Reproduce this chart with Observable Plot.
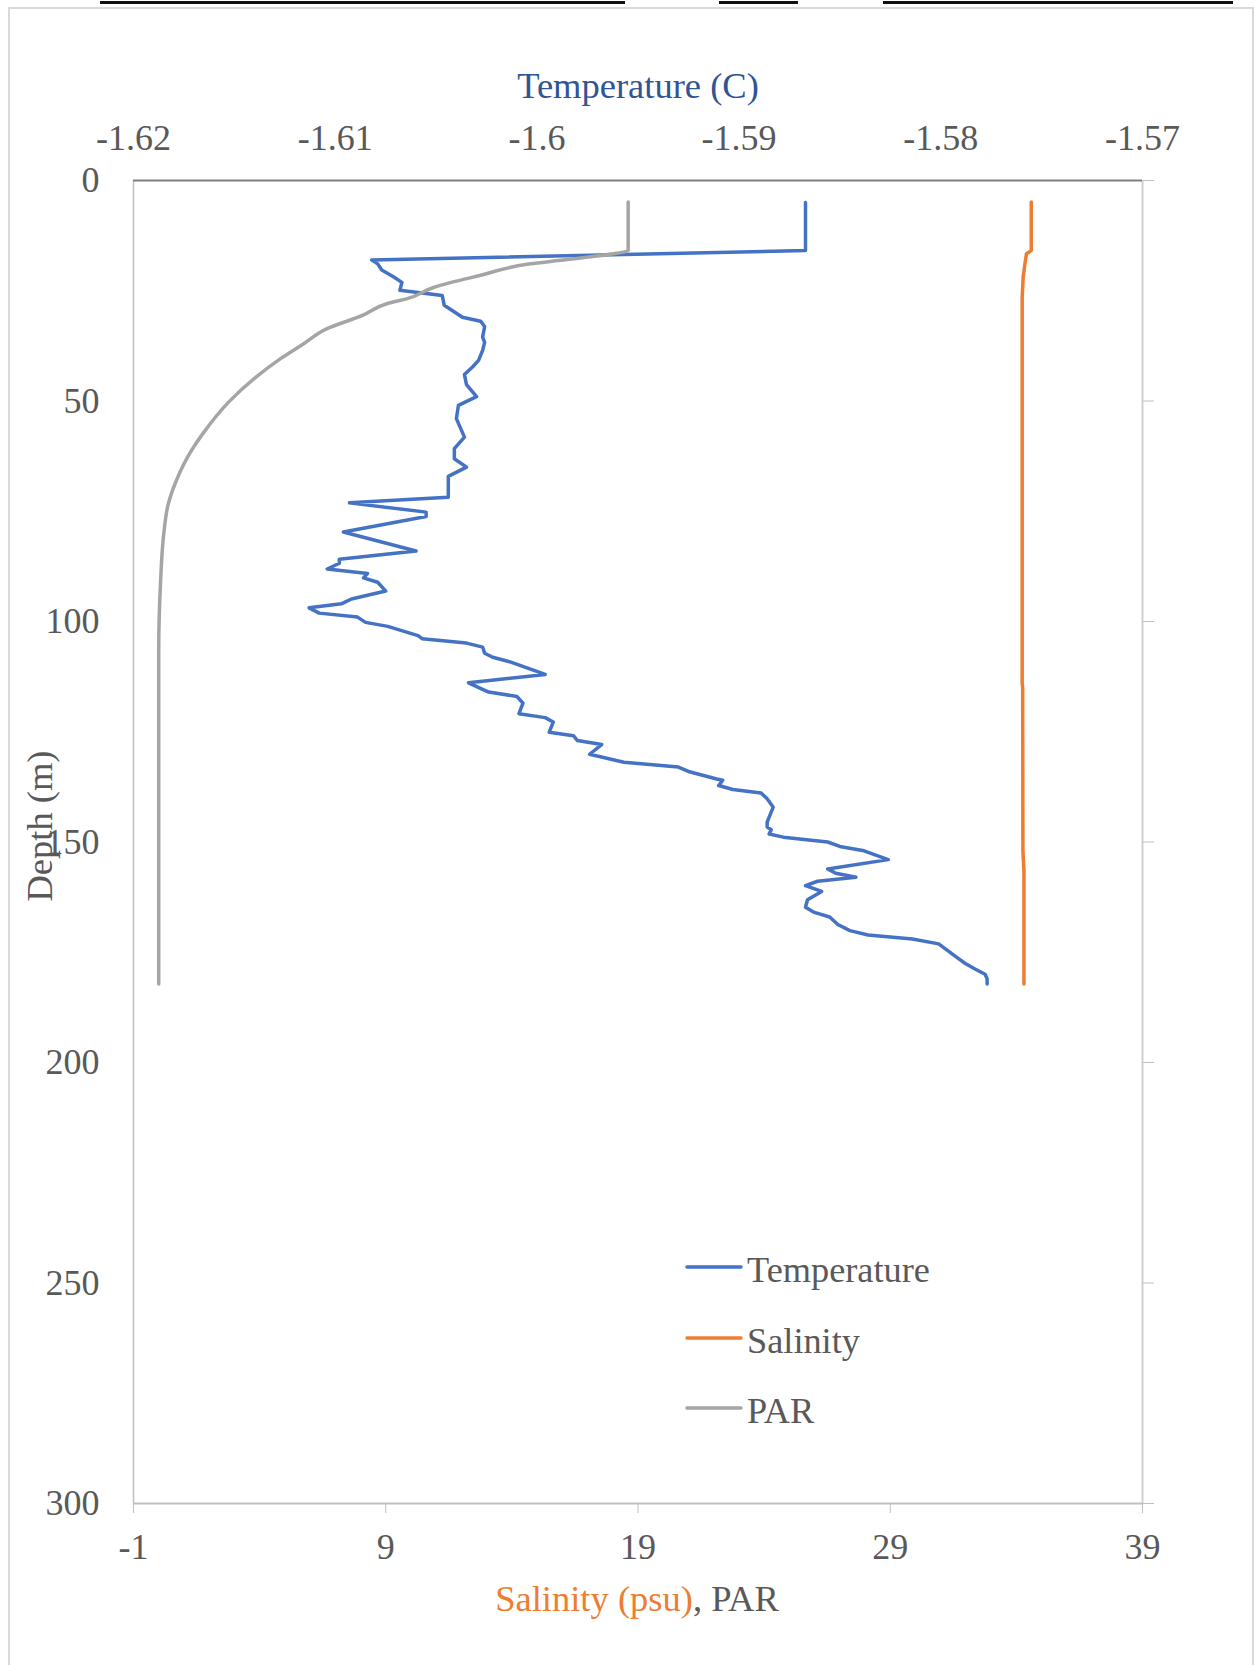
<!DOCTYPE html>
<html><head><meta charset="utf-8">
<script src="https://cdn.jsdelivr.net/npm/d3@7"></script>
<script src="https://cdn.jsdelivr.net/npm/@observablehq/plot@0.6"></script>
<style>
html,body{margin:0;padding:0;background:#fff;overflow:hidden}
#wrap{position:relative;width:1255px;height:1665px;overflow:hidden;background:#fff}
#frame{position:absolute;left:8px;top:7px;width:1246px;height:1700px;border:2px solid #d9d9d9;box-sizing:border-box}
#chart{position:absolute;left:0;top:0}
#overlay{position:absolute;left:0;top:0;pointer-events:none;font-family:"Liberation Serif","Times New Roman",serif}
</style></head><body>
<div id="wrap"><div id="frame"></div><div id="chart"></div><svg id="overlay" width="1255" height="1665"></svg></div>
<script>
// ---- data ----
const tempDepth = [5, 15.9, 18.0, 18.9, 20.3, 21.9, 23.1, 24.9, 26.1, 28.3, 31.0, 31.9, 33.1, 35.5, 36.7, 38.5, 40.8, 42.3, 44.0, 46.3, 49.0, 51.0, 54.0, 58.2, 60.8, 63.1, 65.0, 67.1, 71.8, 73.1, 75.2, 76.2, 79.7, 84.0, 85.9, 86.8, 88.1, 89.1, 90.1, 91.1, 93.1, 94.9, 96.0, 96.9, 98.1, 99.0, 100.2, 101.1, 103.2, 103.9, 104.9, 105.8, 107.2, 108.1, 109.2, 112.0, 113.9, 116.0, 117.0, 118.5, 120.9, 121.8, 122.8, 125.1, 125.9, 127.0, 127.9, 130.1, 131.9, 133.0, 134.0, 135.7, 136.0, 137.2, 138.1, 138.9, 140.2, 142.1, 145.5, 146.6, 147.2, 148.2, 148.9, 150.0, 151.0, 152.0, 154.0, 156.1, 157.1, 158.0, 158.9, 159.9, 161.2, 163.1, 164.8, 165.9, 167.0, 168.7, 170.1, 171.1, 172.0, 173.1, 174.8, 176.5, 177.5, 178.8, 180.0, 181.0, 182.2];
const tempValue = [-1.5867, -1.5867, -1.6082, -1.6079, -1.6077, -1.6071, -1.6067, -1.6068, -1.6047, -1.6046, -1.6037, -1.6028, -1.6026, -1.6027, -1.6026, -1.6027, -1.6029, -1.6032, -1.6036, -1.6035, -1.6030, -1.6039, -1.6040, -1.6036, -1.6041, -1.6041, -1.6035, -1.6044, -1.6044, -1.6093, -1.6055, -1.6055, -1.6096, -1.6060, -1.6098, -1.6098, -1.6104, -1.6084, -1.6086, -1.6079, -1.6075, -1.6092, -1.6097, -1.6113, -1.6108, -1.6089, -1.6085, -1.6074, -1.6059, -1.6057, -1.6035, -1.6027, -1.6026, -1.6022, -1.6013, -1.5996, -1.6034, -1.6024, -1.6010, -1.6007, -1.6009, -1.5996, -1.5992, -1.5994, -1.5982, -1.5980, -1.5968, -1.5974, -1.5957, -1.5930, -1.5925, -1.5911, -1.5908, -1.5910, -1.5903, -1.5889, -1.5886, -1.5883, -1.5886, -1.5886, -1.5884, -1.5885, -1.5878, -1.5856, -1.5850, -1.5838, -1.5826, -1.5856, -1.5852, -1.5842, -1.5861, -1.5867, -1.5859, -1.5866, -1.5867, -1.5863, -1.5855, -1.5851, -1.5845, -1.5836, -1.5814, -1.5801, -1.5796, -1.5791, -1.5788, -1.5783, -1.5778, -1.5777, -1.5777];
const salDepth = [4.9, 15.9, 16.6, 18.9, 21.9, 26.5, 114.0, 115.0, 152.0, 156.5, 182.2];
const salValue = [34.59, 34.59, 34.40, 34.34, 34.27, 34.23, 34.23, 34.25, 34.26, 34.30, 34.30];
const parDepth = [4.9, 15.9, 16.5, 18.1, 18.9, 21.5, 24.2, 26.8, 27.9, 30.6, 33.6, 37.0, 40.4, 44.7, 50.2, 57.4, 61.2, 68.0, 73.3, 80.1, 91.4, 106.6, 182.2];
const parValue = [18.61, 18.61, 18.14, 15.93, 14.74, 12.76, 10.92, 9.85, 9.07, 8.08, 6.67, 5.75, 4.83, 3.83, 2.78, 1.75, 1.3, 0.7, 0.38, 0.2, 0.07, 0.0, 0.0];

const depthTicks = [0, 50, 100, 150, 200, 250, 300];
const bottomTicks = [-1, 9, 19, 29, 39];
const tempTicks = [-1.62, -1.61, -1.6, -1.59, -1.58, -1.57];
const seriesNames = ["Temperature", "Salinity", "PAR"];
const seriesColors = ["#4472C4", "#ED7D31", "#A5A5A5"];

// ---- secondary (temperature) axis mapped onto the primary x scale ----
const tMin = -1.62, tMax = -1.57, xMin = -1, xMax = 39;
const toX = t => xMin + (t - tMin) / (tMax - tMin) * (xMax - xMin);
const fromX = x => tMin + (x - xMin) / (xMax - xMin) * (tMax - tMin);

const temp = tempDepth.map((d, i) => ({depth: d, value: tempValue[i]}));
const sal = salDepth.map((d, i) => ({depth: d, value: salValue[i]}));
const par = parDepth.map((d, i) => ({depth: d, value: parValue[i]}));

const FONT = '"Liberation Serif","Times New Roman",serif';
const chart = Plot.plot({
  width: 1255, height: 1665,
  marginLeft: 133, marginRight: 113, marginTop: 180, marginBottom: 162,
  style: {fontFamily: FONT, fontSize: "36px", color: "#595959", background: "transparent", overflow: "visible"},
  x: {domain: [xMin, xMax]},
  y: {domain: [0, 300], reverse: true},
  marks: [
    Plot.ruleX([xMin], {stroke: "#bfbfbf", strokeWidth: 1.5}),
    Plot.ruleX([xMax], {stroke: "#d0d0d0", strokeWidth: 2}),
    Plot.ruleY([300], {stroke: "#bfbfbf", strokeWidth: 2}),
    Plot.ruleY([0], {stroke: "#7f7f7f", strokeWidth: 2}),
    Plot.axisY({anchor: "left", ticks: depthTicks, tickSize: 0, tickPadding: 34, fontFamily: FONT, fontSize: 36, tickFormat: d => String(d), label: null}),
    Plot.axisY({anchor: "right", ticks: depthTicks, tickSize: 11, stroke: "#bfbfbf", tickFormat: () => "", label: null}),
    Plot.axisX({anchor: "bottom", ticks: bottomTicks, tickSize: 10, tickPadding: 20, stroke: "#bfbfbf", fontFamily: FONT, fontSize: 36, tickFormat: d => String(d), label: null}),
    Plot.axisX({anchor: "top", ticks: tempTicks.map(toX), tickSize: 0, tickPadding: 31, fontFamily: FONT, fontSize: 36, tickFormat: d => String(+fromX(d).toFixed(2)), label: null}),
    Plot.line(sal, {x: "value", y: "depth", stroke: seriesColors[1], strokeWidth: 3.5, strokeLinejoin: "round", strokeLinecap: "round"}),
    Plot.line(temp, {x: d => toX(d.value), y: "depth", stroke: seriesColors[0], strokeWidth: 3.5, strokeLinejoin: "round", strokeLinecap: "round"}),
    Plot.line(par, {x: "value", y: "depth", curve: "monotone-y", stroke: seriesColors[2], strokeWidth: 3.5, strokeLinejoin: "round", strokeLinecap: "round"})
  ]
});
document.getElementById("chart").appendChild(chart);

// ---- titles, legend and decorations (text) ----
const ov = d3.select("#overlay");
// cut-off rules at the very top of the page
[[100, 625], [719, 798], [883, 1233]].forEach(([a, b]) =>
  ov.append("rect").attr("x", a).attr("y", 1).attr("width", b - a).attr("height", 3).attr("fill", "#111"));

ov.append("text").attr("x", 638).attr("y", 98).attr("text-anchor", "middle")
  .attr("font-size", 36.5).attr("fill", "#2F5597").text("Temperature (C)");

const bt = ov.append("text").attr("x", 637).attr("y", 1611).attr("text-anchor", "middle").attr("font-size", 36.5);
bt.append("tspan").attr("fill", "#ED7D31").text("Salinity (psu)");
bt.append("tspan").attr("fill", "#595959").text(", PAR");

ov.append("text").attr("transform", "translate(52,826) rotate(-90)").attr("text-anchor", "middle")
  .attr("font-size", 36.5).attr("fill", "#595959").text("Depth (m)");

const legY = [1267, 1338, 1408];
seriesNames.forEach((name, i) => {
  ov.append("line").attr("x1", 687).attr("x2", 741).attr("y1", legY[i]).attr("y2", legY[i])
    .attr("stroke", seriesColors[i]).attr("stroke-width", 3.5).attr("stroke-linecap", "round");
  ov.append("text").attr("x", 747).attr("y", legY[i] + 15).attr("font-size", 36.3)
    .attr("fill", "#595959").text(name);
});
</script>
</body></html>
